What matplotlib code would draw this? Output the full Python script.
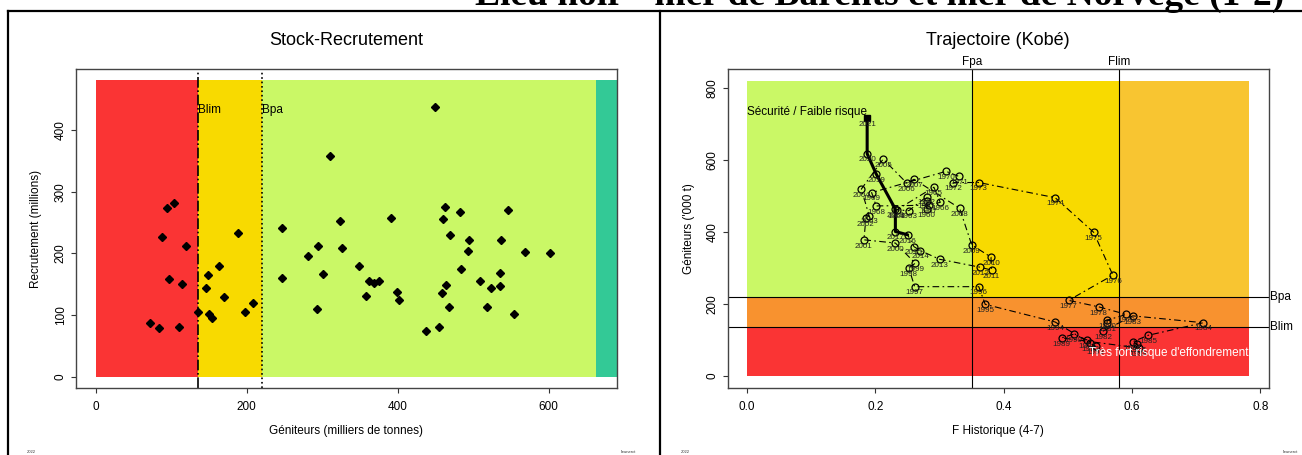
import matplotlib
matplotlib.use('Agg')
import matplotlib.pyplot as plt
from matplotlib.lines import Line2D

plt.rcParams['font.family'] = ['Liberation Sans', 'DejaVu Sans']

# reference points (milliers de tonnes)
blim = 136
bpa = 220
fpa = 0.35
flim = 0.58

# stock-recrutement: geniteurs vs recrutement
srSsb = [71.9, 83.4, 88.2, 94.8, 97.0, 103.6, 110.3, 114.2, 120.0, 135.4,
         146.4, 148.2, 150.0, 154.0, 163.6, 170.3, 188.8, 197.6, 208.7, 246.2,
         246.2, 281.0, 292.5, 294.6, 300.9, 310.1, 323.4, 326.9, 348.5, 357.8,
         361.8, 368.8, 375.0, 390.9, 398.8, 401.5, 438.1, 450.0, 454.4, 458.4,
         460.6, 462.7, 464.6, 468.5, 469.9, 482.6, 483.5, 493.7, 494.1, 509.6,
         518.9, 523.6, 535.2, 535.5, 536.9, 545.7, 554.6, 568.2, 602.2]
srRec = [87.6, 78.4, 227.0, 274.0, 159.0, 282.0, 81.0, 151.0, 212.0, 105.0,
         144.0, 165.0, 101.0, 95.7, 179.0, 128.7, 232.5, 105.0, 119.0, 241.6,
         159.5, 196.0, 109.3, 212.4, 166.0, 358.4, 253.0, 209.2, 179.0, 131.4,
         154.7, 151.4, 154.7, 257.9, 137.3, 123.9, 74.6, 436.8, 81.1, 135.2,
         255.7, 274.7, 148.2, 113.5, 230.3, 267.6, 174.6, 203.3, 221.1, 154.7,
         113.5, 144.3, 146.6, 168.6, 221.1, 269.8, 101.7, 201.7, 201.1]

# trajectoire (Kobe)
years = list(range(1960, 2022))
fHist = [0.280, 0.280, 0.280, 0.252, 0.233, 0.291, 0.301, 0.283, 0.201, 0.194,
         0.310, 0.330, 0.321, 0.361, 0.480, 0.540, 0.570, 0.501, 0.548, 0.591,
         0.561, 0.561, 0.555, 0.601, 0.711, 0.625, 0.601, 0.608, 0.610, 0.490,
         0.509, 0.530, 0.535, 0.543, 0.480, 0.371, 0.361, 0.261, 0.252, 0.262,
         0.231, 0.182, 0.185, 0.190, 0.178, 0.212, 0.249, 0.260, 0.331, 0.350,
         0.380, 0.381, 0.363, 0.300, 0.270, 0.260, 0.250, 0.231, 0.231, 0.201,
         0.187, 0.187]
ssbHist = [463, 487, 498, 459, 461, 524, 482, 474, 472, 509,
           568, 554, 537, 537, 495, 399, 280, 210, 192, 171,
           155, 146, 125, 167, 148, 113, 95, 88, 78, 106,
           116, 100, 91, 82, 150, 199, 248, 248, 300, 313,
           369, 378, 438, 445, 519, 602, 535, 546, 466, 364,
           330, 294, 302, 324, 348, 359, 392, 401, 463, 561,
           617, 716]
thickFrom = 2016

RED = '#FA3434'
YELLOW = '#F8DA00'
GREEN = '#CAF866'
TEAL = '#33C996'
ORANGE = '#F8922F'
LORANGE = '#F8C531'
FRAME = '#444444'

fig = plt.figure(figsize=(13.02, 4.55), dpi=100)


def styleAxes(ax):
    for s in ax.spines.values():
        s.set_color(FRAME)
        s.set_linewidth(1.0)
    ax.tick_params(length=3.6, width=0.8, color='#333333', labelsize=8.5)
    ax.tick_params(axis='x', pad=5.9)
    ax.tick_params(axis='y', pad=3.2)


# ---- Stock-Recrutement ----
ax1 = fig.add_axes([76 / 1302, 1 - 388.3 / 455, 540.7 / 1302, 319.3 / 455])
srTop = 481
srRight = 690
ax1.fill_between([0, blim], 0, srTop, color=RED, lw=0)
ax1.fill_between([blim, bpa], 0, srTop, color=YELLOW, lw=0)
ax1.fill_between([bpa, 662], 0, srTop, color=GREEN, lw=0)
ax1.fill_between([662, srRight], 0, srTop, color=TEAL, lw=0)
ax1.axvline(blim, color='black', ls='-.', lw=1.2)
ax1.axvline(bpa, color='black', ls=':', lw=1.2)
ax1.plot(srSsb, srRec, 'D', color='black', ms=4.5, ls='none')
ax1.text(blim, 432, 'Blim', fontsize=8.5, ha='left', va='center')
ax1.text(bpa, 432, 'Bpa', fontsize=8.5, ha='left', va='center')
ax1.set_xlim(-26, 690)
ax1.set_ylim(-19, 499)
ax1.set_xticks([0, 200, 400, 600])
ax1.set_yticks([0, 100, 200, 300, 400])
ax1.set_yticklabels(['0', '100', '200', '300', '400'], rotation=90, va='center')
styleAxes(ax1)
ax1.set_title('Stock-Recrutement', fontsize=13, pad=17)
ax1.set_xlabel('Géniteurs (milliers de tonnes)', fontsize=8.5)
ax1.set_ylabel('Recrutement (millions)', fontsize=8.5)
ax1.xaxis.set_label_coords(0.5, -0.1165)
ax1.yaxis.set_label_coords(-0.0638, 0.5)

# ---- Trajectoire (Kobe) ----
ax2 = fig.add_axes([727.7 / 1302, 1 - 388.3 / 455, 540.9 / 1302, 319.3 / 455])
kTop = 820
kRight = 0.782
ax2.fill_between([0, fpa], bpa, kTop, color=GREEN, lw=0)
ax2.fill_between([fpa, flim], bpa, kTop, color=YELLOW, lw=0)
ax2.fill_between([flim, kRight], bpa, kTop, color=LORANGE, lw=0)
ax2.fill_between([0, kRight], blim, bpa, color=ORANGE, lw=0)
ax2.fill_between([0, kRight], 0, blim, color=RED, lw=0)
ax2.axvline(fpa, color='black', lw=0.8)
ax2.axvline(flim, color='black', lw=0.8)
ax2.axhline(bpa, color='black', lw=0.8)
ax2.axhline(blim, color='black', lw=0.8)

iThick = years.index(thickFrom)
ax2.plot(fHist[:iThick + 1], ssbHist[:iThick + 1], color='black', lw=0.8,
         ls=(0, (6, 3, 1.5, 3)))
ax2.plot(fHist[iThick:], ssbHist[iThick:], color='black', lw=2.2,
         solid_capstyle='round')
ax2.plot(fHist[:-1], ssbHist[:-1], 'o', mfc='none', mec='black', mew=0.9,
         ms=5, ls='none')
ax2.plot(fHist[-1:], ssbHist[-1:], 's', color='black', ms=5)
for yr, f, b in zip(years, fHist, ssbHist):
    ax2.annotate(str(yr), (f, b), xytext=(0, -4.5), textcoords='offset points',
                 ha='center', va='center', fontsize=5.8, color='#222222')

ax2.text(0.0, 733, 'Sécurité / Faible risque', fontsize=8.5, ha='left',
         va='center')
ax2.text(kRight, 64, "Très fort risque d'effondrement", fontsize=8.5,
         ha='right', va='center', color='white')
for fRef, name in [(fpa, 'Fpa'), (flim, 'Flim')]:
    ax2.annotate(name, (fRef, 1), xycoords=('data', 'axes fraction'),
                 xytext=(0, 0.5), textcoords='offset points', ha='center',
                 va='bottom', fontsize=8.5)
for bRef, name in [(bpa, 'Bpa'), (blim, 'Blim')]:
    ax2.annotate(name, (1, bRef), xycoords=('axes fraction', 'data'),
                 xytext=(0.8, 0), textcoords='offset points', ha='left',
                 va='center', fontsize=8.5)

ax2.set_xlim(-0.0304, 0.8128)
ax2.set_ylim(-34, 852)
ax2.set_xticks([0.0, 0.2, 0.4, 0.6, 0.8])
ax2.set_xticklabels(['0.0', '0.2', '0.4', '0.6', '0.8'])
ax2.set_yticks([0, 200, 400, 600, 800])
ax2.set_yticklabels(['0', '200', '400', '600', '800'], rotation=90, va='center')
styleAxes(ax2)
ax2.set_title('Trajectoire (Kobé)', fontsize=13, pad=17)
ax2.set_xlabel('F Historique (4-7)', fontsize=8.5)
ax2.set_ylabel("Géniteurs ('000 t)", fontsize=8.5)
ax2.xaxis.set_label_coords(0.5, -0.1165)
ax2.yaxis.set_label_coords(-0.0608, 0.5)

# ---- page frame and header ----
fig.text(880 / 1302, 1 - 5 / 455,
         'Lieu noir - mer de Barents et mer de Norvège (1-2)',
         ha='center', va='baseline', fontsize=27, fontweight='bold',
         family='Liberation Serif')
frameLines = [
    ([8 / 1302, 1.0], [1 - 10.5 / 455, 1 - 10.5 / 455]),
    ([8 / 1302, 8 / 1302], [0, 1 - 10.5 / 455]),
    ([660 / 1302, 660 / 1302], [0, 1 - 10.5 / 455]),
]
for xs, ys in frameLines:
    fig.add_artist(Line2D(xs, ys, transform=fig.transFigure, color='black',
                          lw=1.6))

for xPix in [31, 685]:
    fig.text(xPix / 1302, 1 - 452 / 455, '2022', fontsize=3, ha='center',
             va='center', color='#333333')
for xPix in [628, 1290]:
    fig.text(xPix / 1302, 1 - 452 / 455, 'lieunerct', fontsize=3,
             ha='center', va='center', color='#333333')

fig.savefig('out.png', dpi=100)
